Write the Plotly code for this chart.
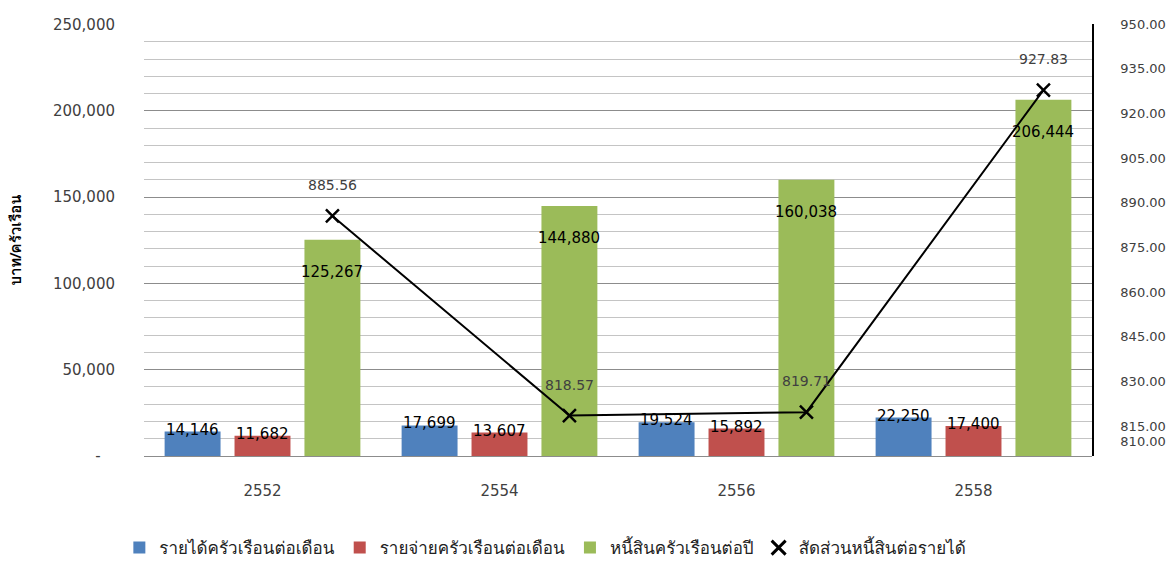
import plotly.graph_objects as go

# ---- data ----
years = [2552, 2554, 2556, 2558]
income = [14146, 17699, 19524, 22250]          # รายได้ครัวเรือนต่อเดือน
expense = [11682, 13607, 15892, 17400]         # รายจ่ายครัวเรือนต่อเดือน
debt = [125267, 144880, 160038, 206444]        # หนี้สินครัวเรือนต่อปี
ratio = [885.56, 818.57, 819.71, 927.83]       # สัดส่วนหนี้สินต่อรายได้

series_names = ["รายได้ครัวเรือนต่อเดือน", "รายจ่ายครัวเรือนต่อเดือน", "หนี้สินครัวเรือนต่อปี"]
ratio_name = "สัดส่วนหนี้สินต่อรายได้"
left_tickvals = [0, 50000, 100000, 150000, 200000, 250000]
left_ticktext = ["-\u00a0\u00a0\u00a0", "50,000", "100,000", "150,000", "200,000", "250,000"]
right_tickvals = [810, 815, 830, 845, 860, 875, 890, 905, 920, 935, 950]
y_title = "บาท/ครัวเรือน"

# ---- styling ----
colors = ["#4F81BD", "#C0504D", "#9BBB59"]
FONT = "'DejaVu Sans', Loma, Garuda, 'Noto Sans Thai Looped', 'Noto Sans Thai', sans-serif"
THAI_FONT = "Loma, Garuda, 'Noto Sans Thai Looped', 'DejaVu Sans', 'Noto Sans Thai', sans-serif"
BARGAP = 0.115
GROUPGAP = 0.2
YEAR_STEP = years[1] - years[0]
slot = YEAR_STEP * (1 - BARGAP) / 3

fig = go.Figure()
for name, vals, col in zip(series_names, [income, expense, debt], colors):
    fig.add_bar(x=years, y=vals, name=name, marker_color=col, marker_line_width=0)

line_x = [yr + slot for yr in years]
fig.add_scatter(
    x=line_x, y=ratio, yaxis="y2", mode="lines+markers", showlegend=False,
    line=dict(color="black", width=2),
    marker=dict(symbol="x-thin", size=13, color="black", line=dict(width=2.5, color="black")),
)
# legend entry for the ratio (marker only, as in the reference)
fig.add_scatter(
    x=[None], y=[None], yaxis="y2", mode="markers", name=ratio_name,
    marker=dict(symbol="x-thin", size=14, color="black", line=dict(width=3, color="black")),
)

annotations = []
for k, vals in enumerate([income, expense, debt]):
    for yr, v in zip(years, vals):
        xpos = yr + (k - 1) * slot
        if k < 2:
            annotations.append(dict(x=xpos, y=v, xref="x", yref="y", text=f"{v:,}",
                                    showarrow=False, yanchor="middle", yshift=2,
                                    font=dict(size=15, color="black", family=FONT)))
        else:
            annotations.append(dict(x=xpos, y=v, xref="x", yref="y", text=f"{v:,}",
                                    showarrow=False, yanchor="top", yshift=-21,
                                    font=dict(size=15, color="black", family=FONT)))
for xv, r in zip(line_x, ratio):
    annotations.append(dict(x=xv, y=r, xref="x", yref="y2", text=f"{r:.2f}",
                            showarrow=False, yanchor="bottom", yshift=21,
                            font=dict(size=14, color="#404040", family=FONT)))

fig.update_layout(
    width=1169, height=561,
    margin=dict(l=144, r=77, t=24, b=105, autoexpand=False),
    paper_bgcolor="white", plot_bgcolor="white",
    font=dict(family=FONT, size=15, color="#404040"),
    barmode="group", bargap=BARGAP, bargroupgap=GROUPGAP,
    annotations=annotations,
    legend=dict(orientation="h", x=-0.026, xanchor="left", y=-0.213, yanchor="middle",
                font=dict(size=17, color="#222222", family=THAI_FONT), traceorder="normal"),
    xaxis=dict(
        range=[years[0] - YEAR_STEP / 2, years[-1] + YEAR_STEP / 2],
        tickvals=years, ticktext=[str(y) for y in years],
        showgrid=False, zeroline=False, showline=False, ticks="", automargin=False,
        ticklabelstandoff=24, tickfont=dict(size=15, color="#404040"),
    ),
    yaxis=dict(
        range=[0, 250300], tickvals=left_tickvals, ticktext=left_ticktext,
        showgrid=True, gridcolor="#8C8C8C", gridwidth=1.3,
        minor=dict(dtick=10000, showgrid=True, gridcolor="#C4C4C4", gridwidth=1.3),
        zeroline=True, zerolinecolor="#8C8C8C", zerolinewidth=1.3, automargin=False,
        ticks="", ticklabelstandoff=28, tickfont=dict(size=15, color="#404040"),
        title=dict(text=f"<b>{y_title}</b>", font=dict(size=15, color="black", family=THAI_FONT),
                   standoff=27),
    ),
    yaxis2=dict(
        overlaying="y", side="right", range=[805, 950],
        tickvals=right_tickvals, tickformat=".2f", automargin=False,
        showgrid=False, zeroline=False, showline=True, linecolor="black", linewidth=1.5,
        ticks="", ticklabelstandoff=24, tickfont=dict(size=13, color="#404040"),
    ),
)

fig.write_html(
    "out.html",
    config={"displayModeBar": False},
    post_script="document.body.style.margin='0';document.body.style.overflow='hidden';",
)
